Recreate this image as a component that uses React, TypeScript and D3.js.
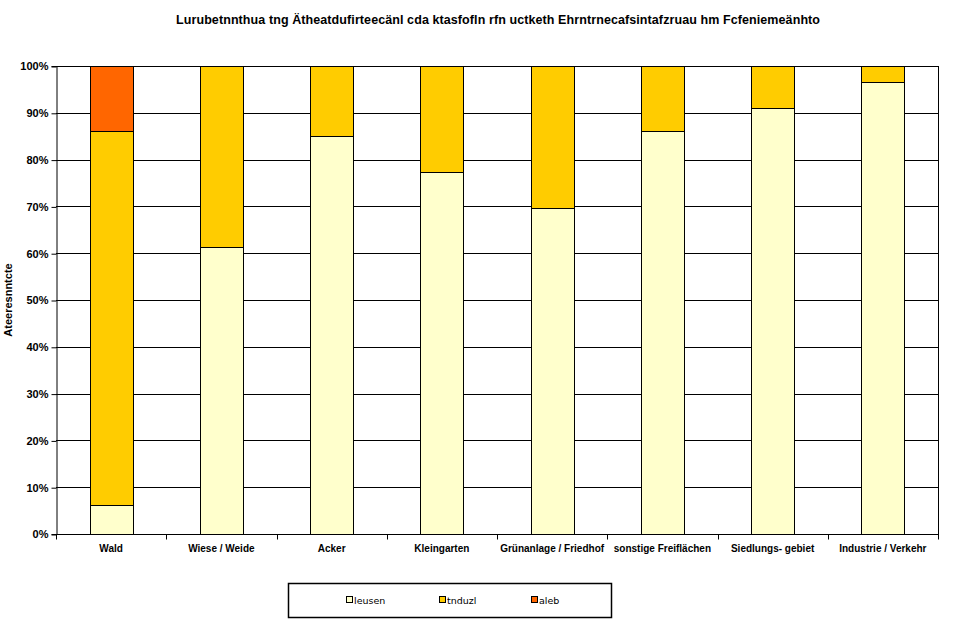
import React, { useEffect, useRef } from 'react';
import * as d3 from 'd3';

const categories = [
  'Wald',
  'Wiese / Weide',
  'Acker',
  'Kleingarten',
  'Grünanlage / Friedhof',
  'sonstige Freiflächen',
  'Siedlungs- gebiet',
  'Industrie / Verkehr',
];
const seriesNames = ['leusen', 'tnduzl', 'aleb'];
const leusen = [0.062, 0.613, 0.85, 0.774, 0.697, 0.861, 0.91, 0.966];
const tnduzl = [0.799, 0.387, 0.15, 0.226, 0.303, 0.139, 0.09, 0.034];
const aleb = [0.139, 0, 0, 0, 0, 0, 0, 0];
const colors = ['#FFFFCC', '#FFCC00', '#FF6600'];
const yTicks = [0, 0.1, 0.2, 0.3, 0.4, 0.5, 0.6, 0.7, 0.8, 0.9, 1];

const title = 'Lurubetnnthua tng Ätheatdufirteecänl cda ktasfofln rfn uctketh Ehrntrnecafsintafzruau hm Fcfeniemeänhto';
const yTitle = 'Ateeresnntcte';

const App = () => {
  const svgRef = useRef<SVGSVGElement>(null);

  useEffect(() => {
    const width = 960;
    const height = 631;
    const margin = { top: 66, right: 22, bottom: 97, left: 56 };
    const w = width - margin.left - margin.right;
    const h = height - margin.top - margin.bottom;
    const font = 'Liberation Sans, Arial, sans-serif';

    const svg = d3.select(svgRef.current);
    svg.selectAll('*').remove();

    const rows = categories.map((c, i) => ({ cat: c, leusen: leusen[i], tnduzl: tnduzl[i], aleb: aleb[i] }));
    const stacked = d3.stack<any>().keys(seriesNames)(rows);

    const x = d3.scaleBand().domain(categories).range([0, w]).paddingInner(0.61).paddingOuter(0.305);
    const xBounds = d3.scaleLinear().domain([0, categories.length]).range([0, w]);
    const y = d3.scaleLinear().domain([0, 1]).range([h, 0]);

    // Title
    svg.append('text')
      .attr('x', 498)
      .attr('y', 24)
      .attr('text-anchor', 'middle')
      .attr('font-family', font)
      .attr('font-weight', 'bold')
      .attr('font-size', 12.5)
      .attr('textLength', 644)
      .attr('lengthAdjust', 'spacing')
      .text(title);

    const g = svg.append('g').attr('transform', `translate(${margin.left},${margin.top})`);

    // Gridlines
    g.append('g')
      .selectAll('line')
      .data(yTicks)
      .enter()
      .append('line')
      .attr('x1', 0)
      .attr('x2', w)
      .attr('y1', d => Math.round(y(d)) + 0.5)
      .attr('y2', d => Math.round(y(d)) + 0.5)
      .attr('stroke', '#000')
      .attr('stroke-width', 1);

    // Plot border (right)
    g.append('line')
      .attr('x1', w + 0.5).attr('x2', w + 0.5)
      .attr('y1', 0).attr('y2', h)
      .attr('stroke', '#000');

    // Bars
    g.append('g')
      .selectAll('g')
      .data(stacked)
      .enter()
      .append('g')
      .attr('fill', (_d, i) => colors[i])
      .selectAll('rect')
      .data(d => d.filter(p => p[1] - p[0] > 0))
      .enter()
      .append('rect')
      .attr('x', d => Math.round(x(d.data.cat)!) + 0.5)
      .attr('y', d => Math.round(y(d[1])) + 0.5)
      .attr('width', Math.round(x.bandwidth()))
      .attr('height', d => Math.round(y(d[0])) - Math.round(y(d[1])))
      .attr('stroke', '#000')
      .attr('stroke-width', 1);

    // Y axis
    const yAxis = g.append('g')
      .attr('transform', 'translate(0.5,0)')
      .call(d3.axisLeft(y).tickValues(yTicks).tickFormat(d3.format('.0%')).tickSizeOuter(0).tickSize(5));
    yAxis.select('.domain').attr('stroke', '#000');
    yAxis.selectAll('.tick line').attr('transform', 'translate(0,0.5)');
    yAxis.selectAll('text')
      .attr('font-family', font)
      .attr('font-weight', 'bold')
      .attr('font-size', 11)
      .attr('fill', '#000')
      .attr('dy', '0.35em');

    // X axis
    const xAxis = g.append('g').attr('transform', `translate(0,${h + 0.5})`);
    xAxis.append('line').attr('x1', 0).attr('x2', w + 1).attr('stroke', '#000');
    xAxis.selectAll('.tk')
      .data(d3.range(categories.length + 1))
      .enter()
      .append('line')
      .attr('x1', d => Math.round(xBounds(d)) + 0.5)
      .attr('x2', d => Math.round(xBounds(d)) + 0.5)
      .attr('y1', 0)
      .attr('y2', 5)
      .attr('stroke', '#000');
    xAxis.selectAll('text')
      .data(categories)
      .enter()
      .append('text')
      .attr('x', d => x(d)! + x.bandwidth() / 2)
      .attr('y', 17)
      .attr('text-anchor', 'middle')
      .attr('font-family', font)
      .attr('font-weight', 'bold')
      .attr('font-size', 10)
      .text(d => d);

    // Y axis title
    svg.append('text')
      .attr('transform', `translate(12,${margin.top + h / 2}) rotate(-90)`)
      .attr('text-anchor', 'middle')
      .attr('font-family', font)
      .attr('font-weight', 'bold')
      .attr('font-size', 11)
      .text(yTitle);

    // Legend
    const legend = svg.append('g');
    legend.append('rect')
      .attr('x', 288.5).attr('y', 583.5)
      .attr('width', 323).attr('height', 34)
      .attr('fill', '#fff')
      .attr('stroke', '#000')
      .attr('stroke-width', 1.5);
    const legendX = [346, 439, 531];
    seriesNames.forEach((name, i) => {
      legend.append('rect')
        .attr('x', legendX[i] + 0.5).attr('y', 596.5)
        .attr('width', 6).attr('height', 6)
        .attr('fill', colors[i])
        .attr('stroke', '#000');
      legend.append('text')
        .attr('x', legendX[i] + 8)
        .attr('y', 604)
        .attr('font-family', 'DejaVu Sans, sans-serif')
        .attr('font-size', 9.5)
        .text(name);
    });
  }, []);

  return <svg ref={svgRef} width={960} height={631} style={{ position: 'absolute', left: 0, top: 0 }} />;
};

export default App;
